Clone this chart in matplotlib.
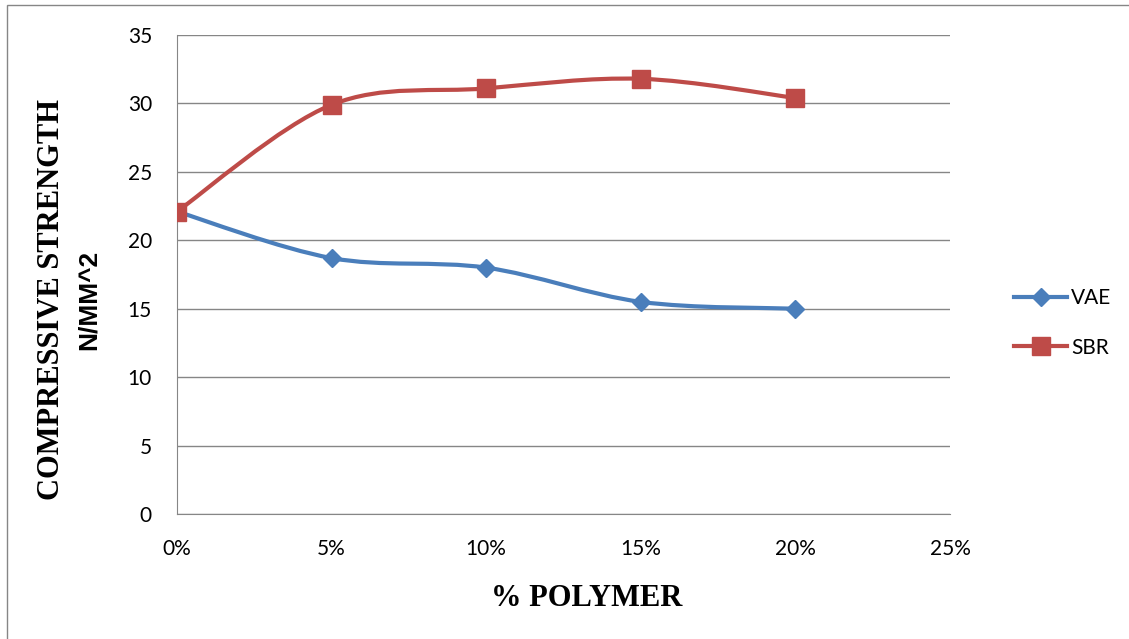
import matplotlib.pyplot as plt
from matplotlib.path import Path
from matplotlib.patches import PathPatch, Rectangle
from matplotlib.lines import Line2D
import numpy as np

polymer = [0, 5, 10, 15, 20]
vae = [22.1, 18.7, 18.0, 15.5, 15.0]
sbr = [22.1, 29.9, 31.1, 31.8, 30.4]
xticks = [0, 5, 10, 15, 20, 25]
yticks = [0, 5, 10, 15, 20, 25, 30, 35]

blue = '#4A7EBB'
red = '#BE4B48'
grid = '#868686'


def smooth_path(x, y):
    # bezier through the points, like the spreadsheet "smoothed line"
    p = np.column_stack([x, y]).astype(float)
    ext = np.vstack([p[0], p, p[-1]])
    verts = [p[0]]
    codes = [Path.MOVETO]
    for i in range(len(p) - 1):
        c1 = p[i] + (ext[i + 2] - ext[i]) / 6
        c2 = p[i + 1] - (ext[i + 3] - ext[i + 1]) / 6
        verts += [c1, c2, p[i + 1]]
        codes += [Path.CURVE4] * 3
    return Path(verts, codes)


fig = plt.figure(figsize=(11.29, 6.39), dpi=100)
ax = fig.add_axes([177 / 1129, 1 - 514 / 639, (950 - 177) / 1129, (514 - 35) / 639])

for vals, col, mk, ms in [(vae, blue, 'D', 9), (sbr, red, 's', 13)]:
    ax.add_patch(PathPatch(smooth_path(polymer, vals), fill=False, edgecolor=col,
                           lw=3, capstyle='round', zorder=3))
    ax.plot(polymer, vals, linestyle='none', marker=mk, ms=ms, color=col, zorder=4)

ax.set_xlim(0, 25)
ax.set_ylim(0, 35)
ax.set_xticks(xticks)
ax.set_xticklabels(['%d%%' % t for t in xticks])
ax.set_yticks(yticks)
ax.tick_params(length=0, labelsize=15, labelfontfamily='Lato')
ax.tick_params(axis='x', pad=18)
ax.tick_params(axis='y', pad=18)
ax.grid(axis='y', color=grid, lw=1)
ax.set_axisbelow(True)
for s in ['top', 'right']:
    ax.spines[s].set_visible(False)
for s in ['left', 'bottom']:
    ax.spines[s].set_color(grid)

handles = [Line2D([], [], color=blue, lw=3, marker='D', ms=9),
           Line2D([], [], color=red, lw=3, marker='s', ms=13)]
fig.legend(handles, ['VAE', 'SBR'], loc='center left',
           bbox_to_anchor=(1014 / 1129, 1 - 323 / 639), frameon=False,
           prop={'family': 'Lato', 'size': 15}, handlelength=2.55,
           handletextpad=0.2, labelspacing=1.4, borderpad=0, borderaxespad=0)

fig.text(52 / 1129, 1 - 300 / 639, 'COMPRESSIVE STRENGTH', rotation=90,
         ha='center', va='center', family='Liberation Serif', weight='bold', size=22)
fig.text(89 / 1129, 1 - 300 / 639, 'N/MM^2', rotation=90,
         ha='center', va='center', family='Liberation Sans', weight='bold', size=19)
fig.text(587 / 1129, 1 - 598 / 639, '% POLYMER', ha='center', va='center',
         family='Liberation Serif', weight='bold', size=22)

fig.add_artist(Rectangle((7 / 1129, -0.1), 1.2, 1 - 5 / 639 + 0.1,
                         transform=fig.transFigure, fill=False,
                         edgecolor=grid, lw=1))

fig.savefig('out.png', dpi=100)
